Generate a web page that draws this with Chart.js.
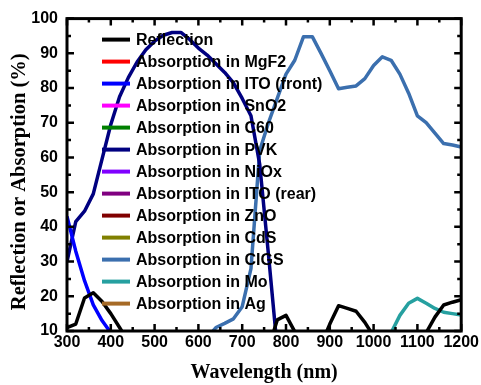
<!DOCTYPE html>
<html>
<head>
<meta charset="utf-8">
<title>Reflection and absorption spectra</title>
<script src="https://cdn.jsdelivr.net/npm/chart.js@4.4.1/dist/chart.umd.min.js"></script>
<style>
    html, body { margin: 0; padding: 0; background: #fff; }
    #chart { display: block; }
</style>
</head>
<body>
<canvas id="chart" width="481" height="385"></canvas>
<script>
// --- Data (20 nm steps) ---
const wavelengths = [300, 320, 340, 360, 380, 400, 420, 440, 460, 480, 500, 520, 540, 560, 580, 600,
    620, 640, 660, 680, 700, 720, 740, 760, 780, 800, 820, 840, 860, 880, 900, 920, 940, 960, 980,
    1000, 1020, 1040, 1060, 1080, 1100, 1120, 1140, 1160, 1180, 1200];

const reflection = [11, 12, 19.5, 21, 18.5, 15, 11, 7, 5, 4, 4, 4, 4, 4, 4, 4,
    4, 4, 4, 4, 4, 5, 6, 5, 13.2, 14.5, 9.8, 6, 5, 6, 12, 17.3, 16.5, 15.7, 12.5,
    8.5, 5, 4, 4, 4, 5, 9.5, 14, 17.5, 18.3, 19];
const itoFront = [43, 33, 24.5, 17.5, 13, 9.5, 6, 4, 3, 2, 2, 2, 2, 2, 2, 2,
    2, 2, 2, 2, 2, 2, 2, 2, 2, 2, 2, 2, 2, 2, 2, 2, 2, 2, 2,
    2, 2, 2, 2, 2, 2, 2, 2, 2, 2, 2];
const pvk = [30, 41.5, 44.5, 49.5, 59.5, 69.5, 77.5, 83, 87.5, 91, 93.5, 95.2, 96, 96, 94, 91.5,
    89.5, 87, 84.5, 81.5, 77, 72, 58, 32, 5, 1, 0.5, 0.5, 0.5, 0.5, 0.5, 0.5, 0.5, 0.5, 0.5,
    0.5, 0.5, 0.5, 0.5, 0.5, 0.5, 0.5, 0.5, 0.5, 0.5, 0.5];
const cigs = [0, 0, 0, 0, 0, 0, 0, 0, 0, 0, 1, 1, 2, 2, 3, 5,
    8, 11, 12.2, 13.5, 17, 28, 62, 70, 77, 84, 88, 94.8, 94.8, 90, 85, 79.8, 80.2, 80.6, 82.7,
    86.5, 89, 88, 84, 78.5, 72, 70, 67, 64, 63.6, 63];
const mo = [0, 0, 0, 0, 0, 0, 0, 0, 0, 0, 0, 0, 0, 0, 0, 0,
    0, 0, 0, 0, 0, 0, 0, 0, 0, 0, 0, 0, 0, 0, 0, 0, 0, 0, 0,
    1, 3, 9.5, 14.5, 18, 19.4, 18, 16.5, 15.4, 15, 14.6];

const seriesLabels = ['Reflection', 'Absorption in MgF2', 'Absorption in ITO (front)', 'Absorption in SnO2',
    'Absorption in C60', 'Absorption in PVK', 'Absorption in NiOx', 'Absorption in ITO (rear)',
    'Absorption in ZnO', 'Absorption in CdS', 'Absorption in CIGS', 'Absorption in Mo', 'Absorption in Ag'];
const seriesColors = ['#000000', '#ff0000', '#0000ff', '#ff00ff', '#008000', '#000080', '#8000ff',
    '#800080', '#800000', '#808000', '#3b6fae', '#26a0a0', '#a66a26'];
// layers that never rise above the 10 % floor of the plot have no visible trace
const seriesValues = [reflection, [], itoFront, [], [], pvk, [], [], [], [], cigs, mo, []];

const xTicks = [300, 400, 500, 600, 700, 800, 900, 1000, 1100, 1200];
const yTicks = [10, 20, 30, 40, 50, 60, 70, 80, 90, 100];
const yTitle = 'Reflection or Absorption (%)';

// --- Helpers ---
const toPoints = vals => vals.map((v, i) => ({ x: wavelengths[i], y: v }));

// frame, inward ticks, y title and the legend inside the plot
const frameAndLegend = {
    id: 'frameAndLegend',
    afterDatasetsDraw(chart) {
        const { ctx, chartArea: a, scales: { x, y } } = chart;
        ctx.save();
        ctx.strokeStyle = '#000';
        ctx.lineWidth = 2.5;
        ctx.lineCap = 'butt';
        ctx.beginPath();
        for (let v = 300; v <= 1200; v += 50) {
            const px = x.getPixelForValue(v);
            const len = v % 100 === 0 ? 7 : 4;
            ctx.moveTo(px, a.bottom); ctx.lineTo(px, a.bottom - len);
            ctx.moveTo(px, a.top); ctx.lineTo(px, a.top + len);
        }
        for (let v = 10; v <= 100; v += 5) {
            const py = y.getPixelForValue(v);
            const len = v % 10 === 0 ? 7 : 4;
            ctx.moveTo(a.left, py); ctx.lineTo(a.left + len, py);
            ctx.moveTo(a.right, py); ctx.lineTo(a.right - len, py);
        }
        ctx.stroke();
        ctx.lineWidth = 3;
        ctx.strokeRect(a.left, a.top, a.right - a.left, a.bottom - a.top);

        ctx.font = 'bold 16px "Liberation Sans", Arial, sans-serif';
        ctx.textBaseline = 'middle';
        ctx.textAlign = 'left';
        chart.data.datasets.forEach((ds, i) => {
            const ly = a.top + 21 + i * 22;
            ctx.strokeStyle = ds.borderColor;
            ctx.lineWidth = 4;
            ctx.beginPath();
            ctx.moveTo(a.left + 35, ly);
            ctx.lineTo(a.left + 63, ly);
            ctx.stroke();
            ctx.fillStyle = '#000';
            ctx.fillText(ds.label, a.left + 69, ly + 1);
        });

        // y title sits a little below the axis middle in the original
        ctx.translate(20, y.getPixelForValue(53));
        ctx.rotate(-Math.PI / 2);
        ctx.textAlign = 'center';
        ctx.font = 'bold 20.5px "Liberation Serif", "Times New Roman", serif';
        ctx.fillText(yTitle, 0, 0);
        ctx.restore();
    }
};

const tickFont = { family: '"Liberation Sans", Arial, sans-serif', size: 16, weight: 'bold' };
const titleFont = { family: '"Liberation Serif", "Times New Roman", serif', size: 20, weight: 'bold' };

new Chart(document.getElementById('chart'), {
    type: 'line',
    data: {
        datasets: seriesLabels.map((label, i) => ({
            label,
            data: toPoints(seriesValues[i]),
            borderColor: seriesColors[i],
            backgroundColor: seriesColors[i],
            borderWidth: 3.5,
            pointRadius: 0,
            tension: 0,
            borderJoinStyle: 'round',
            fill: false
        }))
    },
    options: {
        responsive: false,
        animation: false,
        layout: { padding: { top: 17, right: 19, left: 0, bottom: 0 } },
        plugins: { legend: { display: false }, tooltip: { enabled: false } },
        scales: {
            x: {
                type: 'linear',
                min: 300,
                max: 1200,
                afterBuildTicks: scale => { scale.ticks = xTicks.map(value => ({ value })); },
                afterFit: scale => { scale.height = 54; },
                grid: { display: false, drawTicks: false },
                border: { display: false },
                ticks: { color: '#000', font: tickFont, padding: 2, maxRotation: 0, autoSkip: false, callback: v => String(v) },
                title: { display: true, text: 'Wavelength (nm)', color: '#000', font: titleFont, padding: { top: 1, bottom: 0 } }
            },
            y: {
                min: 10,
                max: 100,
                afterBuildTicks: scale => { scale.ticks = yTicks.map(value => ({ value })); },
                afterFit: scale => { scale.width = 67; },
                grid: { display: false, drawTicks: false },
                border: { display: false },
                ticks: { color: '#000', font: tickFont, padding: 9, autoSkip: false },
                title: { display: false }
            }
        }
    },
    plugins: [frameAndLegend]
});
</script>
</body>
</html>
